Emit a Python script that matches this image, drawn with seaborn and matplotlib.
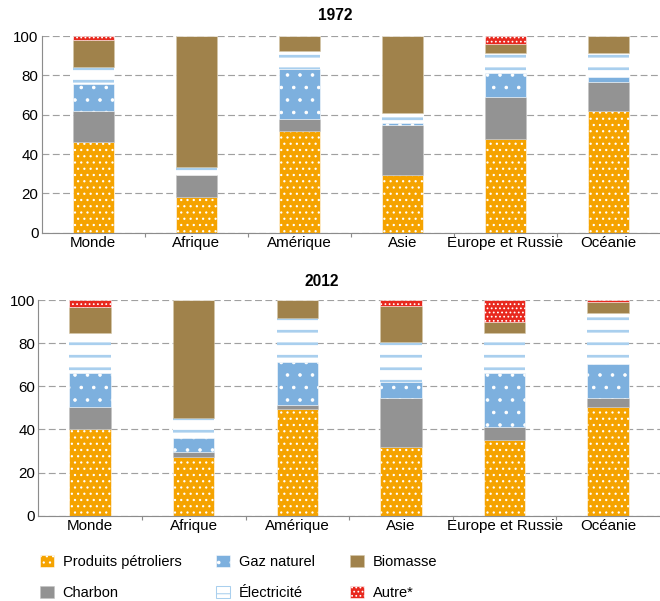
import numpy as np
import seaborn as sns
import matplotlib.pyplot as plt
from matplotlib.patches import Patch

regions = ["Monde", "Afrique", "Amérique", "Asie", "Europe et Russie", "Océanie"]
sources = ["Produits pétroliers", "Charbon", "Gaz naturel", "Électricité", "Biomasse", "Autre*"]

# parts (%) de chaque source, dans l'ordre d'empilement
petrole_1972 = [46.3, 18.0, 51.5, 29.5, 47.5, 62.0]
charbon_1972 = [15.7, 11.3, 6.1, 25.1, 21.7, 14.8]
gaz_1972 = [13.6, 0.0, 25.5, 1.0, 11.8, 2.2]
electricite_1972 = [8.5, 4.3, 9.4, 5.1, 10.5, 12.5]
biomasse_1972 = [13.9, 66.4, 7.5, 39.3, 4.4, 8.5]
autre_1972 = [2.0, 0.0, 0.0, 0.0, 4.1, 0.0]

petrole_2012 = [40.2, 27.0, 49.5, 32.0, 35.1, 50.5]
charbon_2012 = [10.3, 2.7, 2.0, 22.7, 6.2, 4.2]
gaz_2012 = [15.5, 6.5, 19.6, 7.1, 24.7, 15.5]
electricite_2012 = [18.5, 9.2, 20.7, 18.7, 18.5, 23.6]
biomasse_2012 = [12.4, 54.6, 8.2, 16.7, 5.3, 5.1]
autre_2012 = [3.1, 0.0, 0.0, 2.8, 10.2, 1.1]

styles = {
    "Produits pétroliers": dict(color="#F5A300", edgecolor="white", hatch="..", lw=0.5, hlw=1.0),
    "Charbon": dict(color="#939393", edgecolor="#C4C4C4", hatch=None, lw=0.5, hlw=1.0),
    "Gaz naturel": dict(color="#7DB0DE", edgecolor="white", hatch=".", lw=0.5, hlw=1.0),
    "Électricité": dict(color="white", edgecolor="#A9CFEE", hatch="-", lw=0, hlw=2.6),
    "Biomasse": dict(color="#A0824B", edgecolor="#D6C8AA", hatch=None, lw=0.5, hlw=1.0),
    "Autre*": dict(color="#E8281E", edgecolor="white", hatch="...", lw=0.5, hlw=1.0),
}

plt.rcParams['font.family'] = ['Liberation Sans', 'DejaVu Sans']
plt.rcParams['hatch.linewidth'] = 1.0
FS = 14.5
GRAY = "#8C8C8C"


def draw_panel(ax, parts):
    bottom = np.zeros(len(regions))
    for source, values in zip(sources, parts):
        st = styles[source]
        n_before = len(ax.patches)
        with plt.rc_context({"hatch.linewidth": st["hlw"]}):
            sns.barplot(x=regions, y=values, order=regions, ax=ax, width=0.4,
                        color=st["color"], saturation=1, bottom=bottom,
                        edgecolor=st["edgecolor"], linewidth=st["lw"], hatch=st["hatch"])
        for p in ax.patches[n_before:]:
            if hasattr(p, "set_hatch_linewidth"):
                p.set_hatch_linewidth(st["hlw"])
        bottom = bottom + np.array(values)

    ax.set_xlim(-0.5, 5.5)
    ax.set_ylim(0, 100)
    ax.set_yticks([0, 20, 40, 60, 80, 100])
    ax.yaxis.grid(True, linestyle=(0, (6, 3)), color="#A0A0A0", linewidth=1.1)
    ax.set_axisbelow(True)
    for s in ["top", "right"]:
        ax.spines[s].set_visible(False)
    for s in ["left", "bottom"]:
        ax.spines[s].set_color(GRAY)
        ax.spines[s].set_linewidth(1.1)
    ax.set_xticks(np.arange(0.5, 5.5, 1), minor=True)
    ax.tick_params(axis="x", which="major", length=0, labelsize=FS, pad=3)
    ax.tick_params(axis="x", which="minor", length=4, color=GRAY, width=1.1)
    ax.tick_params(axis="y", length=0, labelsize=FS, pad=3)
    ax.set_xlabel("")
    ax.set_ylabel("")


fig = plt.figure(figsize=(8.8, 601 / 75), dpi=75)
ax1 = fig.add_axes([0.0632, 0.6128, 0.9368, 0.3272])
ax2 = fig.add_axes([0.058, 0.1419, 0.942, 0.3589])

draw_panel(ax1, [petrole_1972, charbon_1972, gaz_1972, electricite_1972, biomasse_1972, autre_1972])
draw_panel(ax2, [petrole_2012, charbon_2012, gaz_2012, electricite_2012, biomasse_2012, autre_2012])

fig.text(0.508, 0.975, "1972", ha="center", va="center", fontsize=15, fontweight="bold")
fig.text(0.487, 0.531, "2012", ha="center", va="center", fontsize=15, fontweight="bold")

handles = []
for source in sources:
    st = styles[source]
    if source == "Électricité":
        h = Patch(facecolor="white", edgecolor=st["edgecolor"], hatch="-", linewidth=1)
    else:
        h = Patch(facecolor=st["color"], edgecolor=st["edgecolor"], hatch=st["hatch"], linewidth=0.5)
    handles.append(h)

fig.legend(handles, sources, ncol=3, loc="upper left", bbox_to_anchor=(0.0606, 0.077),
           frameon=False, fontsize=14, handlelength=0.95, handleheight=0.95,
           handletextpad=0.6, columnspacing=2.4, labelspacing=1.15,
           borderpad=0, borderaxespad=0)

fig.savefig("out.png", dpi=75)
